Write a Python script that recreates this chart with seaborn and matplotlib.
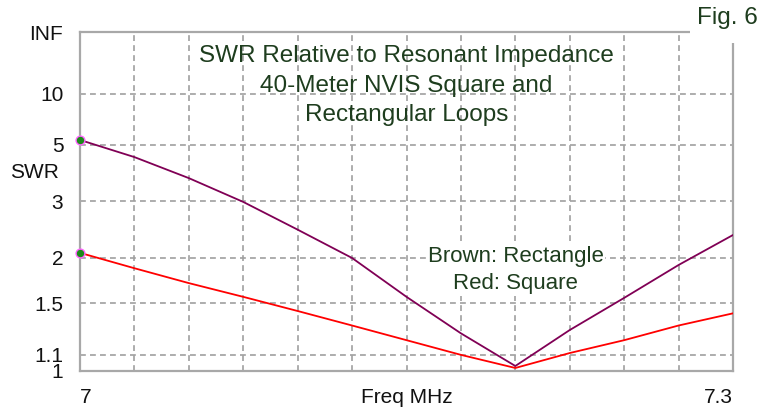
import numpy as np
import pandas as pd
import seaborn as sns
import matplotlib.pyplot as plt
from matplotlib.patches import Rectangle

# data
freq = [7.0, 7.025, 7.05, 7.075, 7.1, 7.125, 7.15, 7.175, 7.2, 7.225, 7.25, 7.275, 7.3]
swr_rectangle = [5.28, 4.42, 3.64, 2.99, 2.43, 2.0, 1.56, 1.25, 1.03, 1.275, 1.55, 1.91, 2.34]
swr_square = [2.07, 1.87, 1.70, 1.56, 1.43, 1.31, 1.20, 1.10, 1.018, 1.112, 1.20, 1.31, 1.41]

INF_SWR = 1e9
y_ticks = [1, 1.1, 1.5, 2, 3, 5, 10, INF_SWR]
y_labels = ["1", "1.1", "1.5", "2", "3", "5", "10", "INF"]
x_grid = np.linspace(7.0, 7.3, 13)

COLORS = {"Rectangle": "#800055", "Square": "#ff0000"}
TEXT_GREEN = "#1e3d1e"

df = pd.DataFrame({
    "freq": freq * 2,
    "swr": swr_rectangle + swr_square,
    "loop": ["Rectangle"] * len(freq) + ["Square"] * len(freq),
})

sns.set_style("white")
plt.rcParams["font.family"] = ["Liberation Sans", "DejaVu Sans"]


# SWR axis is linear in reflection coefficient
def swr_to_rho(s):
    s = np.asarray(s, dtype=float)
    return 1.0 - 2.0 / (s + 1.0)


def rho_to_swr(r):
    r = np.asarray(r, dtype=float)
    with np.errstate(divide="ignore", invalid="ignore"):
        return (1.0 + r) / (1.0 - r)


fig = plt.figure(figsize=(7.64, 4.09), dpi=100)
ax = fig.add_axes([80 / 764, 38 / 409, 653 / 764, 339 / 409])

sns.lineplot(data=df, x="freq", y="swr", hue="loop", palette=COLORS,
             linewidth=1.3, legend=False, ax=ax, zorder=3)

# start markers
starts = df[df["freq"] == freq[0]]
ax.scatter(starts["freq"], starts["swr"], s=40, color="#1a8a1a",
           edgecolor="#ff66ff", linewidth=1.0, zorder=4, clip_on=False)

ax.set_yscale("function", functions=(swr_to_rho, rho_to_swr))
ax.set_ylim(1, INF_SWR)
ax.set_xlim(7.0, 7.3)

ax.set_yticks(y_ticks)
ax.set_yticklabels(y_labels)
ax.set_xticks([7.0, 7.3])
ax.set_xticklabels(["7", "7.3"])
for lab, ha in zip(ax.get_xticklabels(), ["left", "right"]):
    lab.set_ha(ha)
ax.set_xticks(x_grid, minor=True)

ax.tick_params(axis="y", length=0, pad=12, labelsize=15, labelcolor="#111111")
ax.tick_params(axis="x", which="both", length=0, pad=12, labelsize=15, labelcolor="#111111")

ax.grid(False)
ax.xaxis.grid(True, which="minor", color="#a0a0a0", linestyle=(0, (3.5, 2.5)), linewidth=1.2)
ax.yaxis.grid(True, which="major", color="#a0a0a0", linestyle=(0, (3.5, 2.5)), linewidth=1.2)
ax.set_axisbelow(True)

for sp in ax.spines.values():
    sp.set_color("#a8a8a8")
    sp.set_linewidth(1.6)

ax.set_xlabel("Freq MHz", fontsize=15, color="#111111")
ax.xaxis.set_label_coords(0.5, -0.077)
ax.xaxis.label.set_va("center")
ax.set_ylabel("SWR", fontsize=15, color="#111111", rotation=0)
ax.yaxis.set_label_coords(-0.07, 0.587)
ax.yaxis.label.set_va("center")
ax.yaxis.label.set_ha("center")

ax.text(0.5, 0.842, "SWR Relative to Resonant Impedance\n40-Meter NVIS Square and\nRectangular Loops",
        transform=ax.transAxes, ha="center", va="center", fontsize=17.5,
        color=TEXT_GREEN, linespacing=1.42, zorder=5)
ax.text(0.667, 0.298, "Brown: Rectangle\nRed: Square",
        transform=ax.transAxes, ha="center", va="center", fontsize=16,
        color=TEXT_GREEN, linespacing=1.42, zorder=5,
        bbox=dict(facecolor="white", edgecolor="none", pad=1))

# white corner box behind "Fig. 6" breaks the frame there
fig.add_artist(Rectangle((690 / 764, 1 - 43 / 409), 74 / 764, 43 / 409,
                         transform=fig.transFigure, facecolor="white",
                         edgecolor="none", zorder=5))
fig.text(727 / 764, 1 - 18 / 409, "Fig. 6", ha="center", va="center",
         fontsize=17.5, color=TEXT_GREEN, zorder=6)

fig.savefig("out.png", dpi=100)
